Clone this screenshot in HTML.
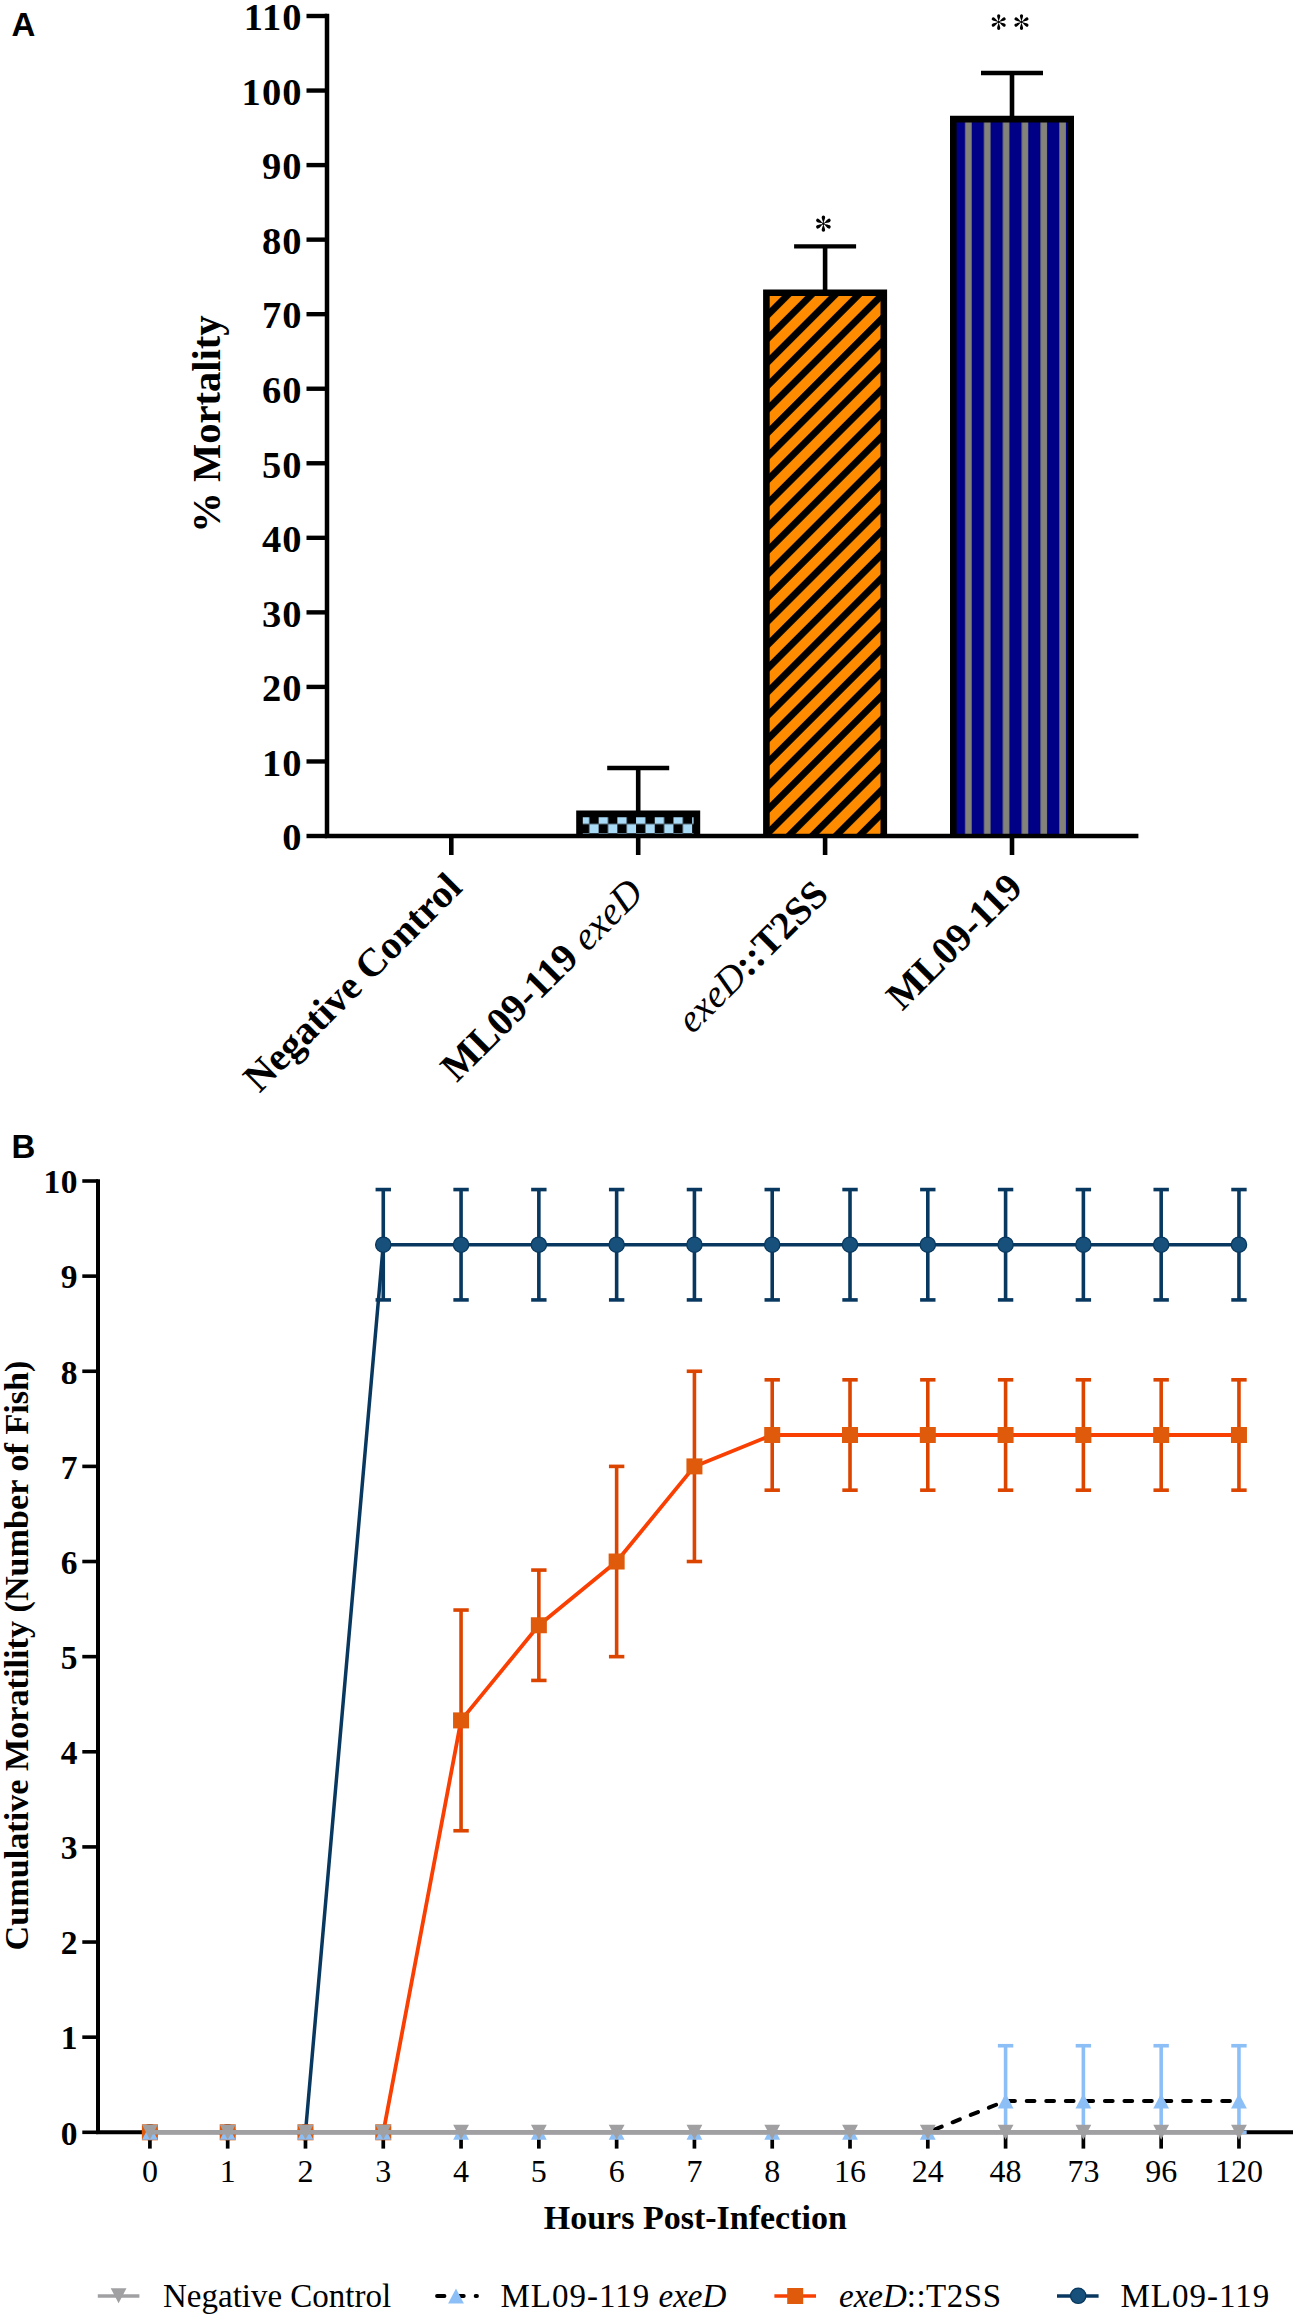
<!DOCTYPE html>
<html><head><meta charset="utf-8"><title>Figure</title>
<style>
html,body{margin:0;padding:0;background:#fff;}
body{width:1299px;height:2319px;overflow:hidden;font-family:"Liberation Serif",serif;}
svg{display:block;position:absolute;left:0;top:0;}
</style></head><body>
<svg width="1299" height="2319" viewBox="0 0 1299 2319">
<rect width="1299" height="2319" fill="#fff"/>
<defs>
<pattern id="chk" patternUnits="userSpaceOnUse" x="579.95" y="814.65" width="18.7" height="18.7"><rect width="18.7" height="18.7" fill="#000"/><rect x="0" y="0" width="9.35" height="9.35" fill="#A9DAF6"/><rect x="9.35" y="9.35" width="9.35" height="9.35" fill="#A9DAF6"/></pattern>
<pattern id="dia" patternUnits="userSpaceOnUse" x="12.48" y="0" width="16.66" height="20" patternTransform="rotate(45)"><rect width="16.66" height="20" fill="#FF8C00"/><rect x="0" width="6.8" height="20" fill="#000"/></pattern>
<pattern id="vst" patternUnits="userSpaceOnUse" x="0" y="0" width="18.84" height="20"><rect width="18.84" height="20" fill="#000086"/><rect x="4.26" width="6.6" height="20" fill="#838379"/></pattern>
</defs>
<text x="11.5" y="35.8" font-family='"Liberation Sans", sans-serif' font-weight="bold" font-size="33">A</text>
<text x="11.5" y="1157.8" font-family='"Liberation Sans", sans-serif' font-weight="bold" font-size="33">B</text>
<rect x="579.5" y="813.9" width="117.4" height="22.1" fill="url(#chk)"/>
<path d="M579.5 836 V813.9 H696.9 V836" fill="none" stroke="#000" stroke-width="6.6" stroke-linejoin="miter"/>
<rect x="766.4" y="292.7" width="117.4" height="543.3" fill="url(#dia)"/>
<path d="M766.4 836 V292.7 H883.8 V836" fill="none" stroke="#000" stroke-width="6.6" stroke-linejoin="miter"/>
<rect x="953.3" y="119.1" width="117.4" height="716.9" fill="url(#vst)"/>
<path d="M953.3 836 V119.1 H1070.7 V836" fill="none" stroke="#000" stroke-width="6.6" stroke-linejoin="miter"/>
<line x1="638.2" y1="812.6" x2="638.2" y2="768" stroke="#000" stroke-width="4.6"/>
<line x1="607.2" y1="768" x2="669.2" y2="768" stroke="#000" stroke-width="4.4"/>
<line x1="825.1" y1="291.4" x2="825.1" y2="246.4" stroke="#000" stroke-width="4.6"/>
<line x1="794.1" y1="246.4" x2="856.1" y2="246.4" stroke="#000" stroke-width="4.4"/>
<line x1="1012" y1="117.8" x2="1012" y2="73" stroke="#000" stroke-width="4.6"/>
<line x1="981" y1="73" x2="1043" y2="73" stroke="#000" stroke-width="4.4"/>
<g transform="translate(823.4,223.65)" fill="#000"><path transform="rotate(0)" d="M0,-0.6 C-0.7,-2.6 -1.75,-5.2 -1.75,-6.4 A1.75,1.75 0 0 1 1.75,-6.4 C1.75,-5.2 0.7,-2.6 0,-0.6Z"/><path transform="rotate(60)" d="M0,-0.6 C-0.7,-2.6 -1.75,-5.2 -1.75,-6.4 A1.75,1.75 0 0 1 1.75,-6.4 C1.75,-5.2 0.7,-2.6 0,-0.6Z"/><path transform="rotate(120)" d="M0,-0.6 C-0.7,-2.6 -1.75,-5.2 -1.75,-6.4 A1.75,1.75 0 0 1 1.75,-6.4 C1.75,-5.2 0.7,-2.6 0,-0.6Z"/><path transform="rotate(180)" d="M0,-0.6 C-0.7,-2.6 -1.75,-5.2 -1.75,-6.4 A1.75,1.75 0 0 1 1.75,-6.4 C1.75,-5.2 0.7,-2.6 0,-0.6Z"/><path transform="rotate(240)" d="M0,-0.6 C-0.7,-2.6 -1.75,-5.2 -1.75,-6.4 A1.75,1.75 0 0 1 1.75,-6.4 C1.75,-5.2 0.7,-2.6 0,-0.6Z"/><path transform="rotate(300)" d="M0,-0.6 C-0.7,-2.6 -1.75,-5.2 -1.75,-6.4 A1.75,1.75 0 0 1 1.75,-6.4 C1.75,-5.2 0.7,-2.6 0,-0.6Z"/><circle r="1.3"/></g>
<g transform="translate(998.7,22.05)" fill="#000"><path transform="rotate(0)" d="M0,-0.6 C-0.7,-2.6 -1.6,-5.05 -1.6,-6.25 A1.6,1.6 0 0 1 1.6,-6.25 C1.6,-5.05 0.7,-2.6 0,-0.6Z"/><path transform="rotate(60)" d="M0,-0.6 C-0.7,-2.6 -1.6,-5.05 -1.6,-6.25 A1.6,1.6 0 0 1 1.6,-6.25 C1.6,-5.05 0.7,-2.6 0,-0.6Z"/><path transform="rotate(120)" d="M0,-0.6 C-0.7,-2.6 -1.6,-5.05 -1.6,-6.25 A1.6,1.6 0 0 1 1.6,-6.25 C1.6,-5.05 0.7,-2.6 0,-0.6Z"/><path transform="rotate(180)" d="M0,-0.6 C-0.7,-2.6 -1.6,-5.05 -1.6,-6.25 A1.6,1.6 0 0 1 1.6,-6.25 C1.6,-5.05 0.7,-2.6 0,-0.6Z"/><path transform="rotate(240)" d="M0,-0.6 C-0.7,-2.6 -1.6,-5.05 -1.6,-6.25 A1.6,1.6 0 0 1 1.6,-6.25 C1.6,-5.05 0.7,-2.6 0,-0.6Z"/><path transform="rotate(300)" d="M0,-0.6 C-0.7,-2.6 -1.6,-5.05 -1.6,-6.25 A1.6,1.6 0 0 1 1.6,-6.25 C1.6,-5.05 0.7,-2.6 0,-0.6Z"/><circle r="1.3"/></g>
<g transform="translate(1021.5,22.05)" fill="#000"><path transform="rotate(0)" d="M0,-0.6 C-0.7,-2.6 -1.6,-5.05 -1.6,-6.25 A1.6,1.6 0 0 1 1.6,-6.25 C1.6,-5.05 0.7,-2.6 0,-0.6Z"/><path transform="rotate(60)" d="M0,-0.6 C-0.7,-2.6 -1.6,-5.05 -1.6,-6.25 A1.6,1.6 0 0 1 1.6,-6.25 C1.6,-5.05 0.7,-2.6 0,-0.6Z"/><path transform="rotate(120)" d="M0,-0.6 C-0.7,-2.6 -1.6,-5.05 -1.6,-6.25 A1.6,1.6 0 0 1 1.6,-6.25 C1.6,-5.05 0.7,-2.6 0,-0.6Z"/><path transform="rotate(180)" d="M0,-0.6 C-0.7,-2.6 -1.6,-5.05 -1.6,-6.25 A1.6,1.6 0 0 1 1.6,-6.25 C1.6,-5.05 0.7,-2.6 0,-0.6Z"/><path transform="rotate(240)" d="M0,-0.6 C-0.7,-2.6 -1.6,-5.05 -1.6,-6.25 A1.6,1.6 0 0 1 1.6,-6.25 C1.6,-5.05 0.7,-2.6 0,-0.6Z"/><path transform="rotate(300)" d="M0,-0.6 C-0.7,-2.6 -1.6,-5.05 -1.6,-6.25 A1.6,1.6 0 0 1 1.6,-6.25 C1.6,-5.05 0.7,-2.6 0,-0.6Z"/><circle r="1.3"/></g>
<path d="M327 13.8 V836 H1138.4" fill="none" stroke="#000" stroke-width="4.5" stroke-linejoin="miter"/>
<line x1="306.5" y1="836" x2="327" y2="836" stroke="#000" stroke-width="4.4"/>
<text x="302.6" y="850.3" text-anchor="end" font-family='"Liberation Serif", serif' font-weight="bold" font-size="38.5" letter-spacing="1.1">0</text>
<line x1="306.5" y1="761.46" x2="327" y2="761.46" stroke="#000" stroke-width="4.4"/>
<text x="302.6" y="775.75" text-anchor="end" font-family='"Liberation Serif", serif' font-weight="bold" font-size="38.5" letter-spacing="1.1">10</text>
<line x1="306.5" y1="686.91" x2="327" y2="686.91" stroke="#000" stroke-width="4.4"/>
<text x="302.6" y="701.21" text-anchor="end" font-family='"Liberation Serif", serif' font-weight="bold" font-size="38.5" letter-spacing="1.1">20</text>
<line x1="306.5" y1="612.37" x2="327" y2="612.37" stroke="#000" stroke-width="4.4"/>
<text x="302.6" y="626.66" text-anchor="end" font-family='"Liberation Serif", serif' font-weight="bold" font-size="38.5" letter-spacing="1.1">30</text>
<line x1="306.5" y1="537.82" x2="327" y2="537.82" stroke="#000" stroke-width="4.4"/>
<text x="302.6" y="552.12" text-anchor="end" font-family='"Liberation Serif", serif' font-weight="bold" font-size="38.5" letter-spacing="1.1">40</text>
<line x1="306.5" y1="463.27" x2="327" y2="463.27" stroke="#000" stroke-width="4.4"/>
<text x="302.6" y="477.57" text-anchor="end" font-family='"Liberation Serif", serif' font-weight="bold" font-size="38.5" letter-spacing="1.1">50</text>
<line x1="306.5" y1="388.73" x2="327" y2="388.73" stroke="#000" stroke-width="4.4"/>
<text x="302.6" y="403.03" text-anchor="end" font-family='"Liberation Serif", serif' font-weight="bold" font-size="38.5" letter-spacing="1.1">60</text>
<line x1="306.5" y1="314.18" x2="327" y2="314.18" stroke="#000" stroke-width="4.4"/>
<text x="302.6" y="328.48" text-anchor="end" font-family='"Liberation Serif", serif' font-weight="bold" font-size="38.5" letter-spacing="1.1">70</text>
<line x1="306.5" y1="239.64" x2="327" y2="239.64" stroke="#000" stroke-width="4.4"/>
<text x="302.6" y="253.94" text-anchor="end" font-family='"Liberation Serif", serif' font-weight="bold" font-size="38.5" letter-spacing="1.1">80</text>
<line x1="306.5" y1="165.09" x2="327" y2="165.09" stroke="#000" stroke-width="4.4"/>
<text x="302.6" y="179.39" text-anchor="end" font-family='"Liberation Serif", serif' font-weight="bold" font-size="38.5" letter-spacing="1.1">90</text>
<line x1="306.5" y1="90.55" x2="327" y2="90.55" stroke="#000" stroke-width="4.4"/>
<text x="302.6" y="104.85" text-anchor="end" font-family='"Liberation Serif", serif' font-weight="bold" font-size="38.5" letter-spacing="1.1">100</text>
<line x1="306.5" y1="16" x2="327" y2="16" stroke="#000" stroke-width="4.4"/>
<text x="302.6" y="30.3" text-anchor="end" font-family='"Liberation Serif", serif' font-weight="bold" font-size="38.5" letter-spacing="1.1">110</text>
<line x1="451.3" y1="836" x2="451.3" y2="855" stroke="#000" stroke-width="4.6"/>
<line x1="638.2" y1="836" x2="638.2" y2="855" stroke="#000" stroke-width="4.6"/>
<line x1="825.1" y1="836" x2="825.1" y2="855" stroke="#000" stroke-width="4.6"/>
<line x1="1012" y1="836" x2="1012" y2="855" stroke="#000" stroke-width="4.6"/>
<text transform="translate(220,424.1) rotate(-90)" text-anchor="middle" font-family='"Liberation Serif", serif' font-weight="bold" font-size="40.6">% Mortality</text>
<text transform="translate(463.89,889.41) rotate(-45)" text-anchor="end" font-family='"Liberation Serif", serif' font-weight="bold" font-size="39.7"><tspan>Negative Control</tspan></text>
<text transform="translate(645.2,895) rotate(-45)" text-anchor="end" font-family='"Liberation Serif", serif' font-weight="bold" font-size="39.8"><tspan>ML09-119 </tspan><tspan font-style="italic" font-weight="normal">exeD</tspan></text>
<text transform="translate(830.33,896.77) rotate(-45)" text-anchor="end" font-family='"Liberation Serif", serif' font-weight="bold" font-size="39"><tspan font-style="italic" font-weight="normal">exeD</tspan><tspan>::T2SS</tspan></text>
<text transform="translate(1024.3,889.7) rotate(-45)" text-anchor="end" font-family='"Liberation Serif", serif' font-weight="bold" font-size="39.3"><tspan>ML09-119</tspan></text>
<path d="M98 1179.2 V2132.3 H1293" fill="none" stroke="#000" stroke-width="4" />
<line x1="82.3" y1="2132.3" x2="98" y2="2132.3" stroke="#000" stroke-width="3.6"/>
<text x="78.1" y="2144.6" text-anchor="end" font-family='"Liberation Serif", serif' font-weight="bold" font-size="33.5" letter-spacing="0.5">0</text>
<line x1="82.3" y1="2037.17" x2="98" y2="2037.17" stroke="#000" stroke-width="3.6"/>
<text x="78.1" y="2049.47" text-anchor="end" font-family='"Liberation Serif", serif' font-weight="bold" font-size="33.5" letter-spacing="0.5">1</text>
<line x1="82.3" y1="1942.04" x2="98" y2="1942.04" stroke="#000" stroke-width="3.6"/>
<text x="78.1" y="1954.34" text-anchor="end" font-family='"Liberation Serif", serif' font-weight="bold" font-size="33.5" letter-spacing="0.5">2</text>
<line x1="82.3" y1="1846.91" x2="98" y2="1846.91" stroke="#000" stroke-width="3.6"/>
<text x="78.1" y="1859.21" text-anchor="end" font-family='"Liberation Serif", serif' font-weight="bold" font-size="33.5" letter-spacing="0.5">3</text>
<line x1="82.3" y1="1751.78" x2="98" y2="1751.78" stroke="#000" stroke-width="3.6"/>
<text x="78.1" y="1764.08" text-anchor="end" font-family='"Liberation Serif", serif' font-weight="bold" font-size="33.5" letter-spacing="0.5">4</text>
<line x1="82.3" y1="1656.65" x2="98" y2="1656.65" stroke="#000" stroke-width="3.6"/>
<text x="78.1" y="1668.95" text-anchor="end" font-family='"Liberation Serif", serif' font-weight="bold" font-size="33.5" letter-spacing="0.5">5</text>
<line x1="82.3" y1="1561.52" x2="98" y2="1561.52" stroke="#000" stroke-width="3.6"/>
<text x="78.1" y="1573.82" text-anchor="end" font-family='"Liberation Serif", serif' font-weight="bold" font-size="33.5" letter-spacing="0.5">6</text>
<line x1="82.3" y1="1466.39" x2="98" y2="1466.39" stroke="#000" stroke-width="3.6"/>
<text x="78.1" y="1478.69" text-anchor="end" font-family='"Liberation Serif", serif' font-weight="bold" font-size="33.5" letter-spacing="0.5">7</text>
<line x1="82.3" y1="1371.26" x2="98" y2="1371.26" stroke="#000" stroke-width="3.6"/>
<text x="78.1" y="1383.56" text-anchor="end" font-family='"Liberation Serif", serif' font-weight="bold" font-size="33.5" letter-spacing="0.5">8</text>
<line x1="82.3" y1="1276.13" x2="98" y2="1276.13" stroke="#000" stroke-width="3.6"/>
<text x="78.1" y="1288.43" text-anchor="end" font-family='"Liberation Serif", serif' font-weight="bold" font-size="33.5" letter-spacing="0.5">9</text>
<line x1="82.3" y1="1181" x2="98" y2="1181" stroke="#000" stroke-width="3.6"/>
<text x="78.1" y="1193.3" text-anchor="end" font-family='"Liberation Serif", serif' font-weight="bold" font-size="33.5" letter-spacing="0.5">10</text>
<line x1="149.9" y1="2132.3" x2="149.9" y2="2148.6" stroke="#000" stroke-width="3.7"/>
<text x="149.9" y="2182" text-anchor="middle" font-family='"Liberation Serif", serif' font-size="32">0</text>
<line x1="227.69" y1="2132.3" x2="227.69" y2="2148.6" stroke="#000" stroke-width="3.7"/>
<text x="227.69" y="2182" text-anchor="middle" font-family='"Liberation Serif", serif' font-size="32">1</text>
<line x1="305.48" y1="2132.3" x2="305.48" y2="2148.6" stroke="#000" stroke-width="3.7"/>
<text x="305.48" y="2182" text-anchor="middle" font-family='"Liberation Serif", serif' font-size="32">2</text>
<line x1="383.27" y1="2132.3" x2="383.27" y2="2148.6" stroke="#000" stroke-width="3.7"/>
<text x="383.27" y="2182" text-anchor="middle" font-family='"Liberation Serif", serif' font-size="32">3</text>
<line x1="461.06" y1="2132.3" x2="461.06" y2="2148.6" stroke="#000" stroke-width="3.7"/>
<text x="461.06" y="2182" text-anchor="middle" font-family='"Liberation Serif", serif' font-size="32">4</text>
<line x1="538.85" y1="2132.3" x2="538.85" y2="2148.6" stroke="#000" stroke-width="3.7"/>
<text x="538.85" y="2182" text-anchor="middle" font-family='"Liberation Serif", serif' font-size="32">5</text>
<line x1="616.64" y1="2132.3" x2="616.64" y2="2148.6" stroke="#000" stroke-width="3.7"/>
<text x="616.64" y="2182" text-anchor="middle" font-family='"Liberation Serif", serif' font-size="32">6</text>
<line x1="694.43" y1="2132.3" x2="694.43" y2="2148.6" stroke="#000" stroke-width="3.7"/>
<text x="694.43" y="2182" text-anchor="middle" font-family='"Liberation Serif", serif' font-size="32">7</text>
<line x1="772.22" y1="2132.3" x2="772.22" y2="2148.6" stroke="#000" stroke-width="3.7"/>
<text x="772.22" y="2182" text-anchor="middle" font-family='"Liberation Serif", serif' font-size="32">8</text>
<line x1="850.01" y1="2132.3" x2="850.01" y2="2148.6" stroke="#000" stroke-width="3.7"/>
<text x="850.01" y="2182" text-anchor="middle" font-family='"Liberation Serif", serif' font-size="32">16</text>
<line x1="927.8" y1="2132.3" x2="927.8" y2="2148.6" stroke="#000" stroke-width="3.7"/>
<text x="927.8" y="2182" text-anchor="middle" font-family='"Liberation Serif", serif' font-size="32">24</text>
<line x1="1005.59" y1="2132.3" x2="1005.59" y2="2148.6" stroke="#000" stroke-width="3.7"/>
<text x="1005.59" y="2182" text-anchor="middle" font-family='"Liberation Serif", serif' font-size="32">48</text>
<line x1="1083.38" y1="2132.3" x2="1083.38" y2="2148.6" stroke="#000" stroke-width="3.7"/>
<text x="1083.38" y="2182" text-anchor="middle" font-family='"Liberation Serif", serif' font-size="32">73</text>
<line x1="1161.17" y1="2132.3" x2="1161.17" y2="2148.6" stroke="#000" stroke-width="3.7"/>
<text x="1161.17" y="2182" text-anchor="middle" font-family='"Liberation Serif", serif' font-size="32">96</text>
<line x1="1238.96" y1="2132.3" x2="1238.96" y2="2148.6" stroke="#000" stroke-width="3.7"/>
<text x="1238.96" y="2182" text-anchor="middle" font-family='"Liberation Serif", serif' font-size="32">120</text>
<text x="695.3" y="2229" text-anchor="middle" font-family='"Liberation Serif", serif' font-weight="bold" font-size="34">Hours Post-Infection</text>
<text transform="translate(28,1655.5) rotate(-90)" text-anchor="middle" font-family='"Liberation Serif", serif' font-weight="bold" font-size="34.2">Cumulative Moratility (Number of Fish)</text>
<line x1="383.27" y1="1189.56" x2="383.27" y2="1299.91" stroke="#08385F" stroke-width="3.6"/>
<line x1="375.57" y1="1189.56" x2="390.97" y2="1189.56" stroke="#08385F" stroke-width="3.6"/>
<line x1="375.57" y1="1299.91" x2="390.97" y2="1299.91" stroke="#08385F" stroke-width="3.6"/>
<line x1="461.06" y1="1189.56" x2="461.06" y2="1299.91" stroke="#08385F" stroke-width="3.6"/>
<line x1="453.36" y1="1189.56" x2="468.76" y2="1189.56" stroke="#08385F" stroke-width="3.6"/>
<line x1="453.36" y1="1299.91" x2="468.76" y2="1299.91" stroke="#08385F" stroke-width="3.6"/>
<line x1="538.85" y1="1189.56" x2="538.85" y2="1299.91" stroke="#08385F" stroke-width="3.6"/>
<line x1="531.15" y1="1189.56" x2="546.55" y2="1189.56" stroke="#08385F" stroke-width="3.6"/>
<line x1="531.15" y1="1299.91" x2="546.55" y2="1299.91" stroke="#08385F" stroke-width="3.6"/>
<line x1="616.64" y1="1189.56" x2="616.64" y2="1299.91" stroke="#08385F" stroke-width="3.6"/>
<line x1="608.94" y1="1189.56" x2="624.34" y2="1189.56" stroke="#08385F" stroke-width="3.6"/>
<line x1="608.94" y1="1299.91" x2="624.34" y2="1299.91" stroke="#08385F" stroke-width="3.6"/>
<line x1="694.43" y1="1189.56" x2="694.43" y2="1299.91" stroke="#08385F" stroke-width="3.6"/>
<line x1="686.73" y1="1189.56" x2="702.13" y2="1189.56" stroke="#08385F" stroke-width="3.6"/>
<line x1="686.73" y1="1299.91" x2="702.13" y2="1299.91" stroke="#08385F" stroke-width="3.6"/>
<line x1="772.22" y1="1189.56" x2="772.22" y2="1299.91" stroke="#08385F" stroke-width="3.6"/>
<line x1="764.52" y1="1189.56" x2="779.92" y2="1189.56" stroke="#08385F" stroke-width="3.6"/>
<line x1="764.52" y1="1299.91" x2="779.92" y2="1299.91" stroke="#08385F" stroke-width="3.6"/>
<line x1="850.01" y1="1189.56" x2="850.01" y2="1299.91" stroke="#08385F" stroke-width="3.6"/>
<line x1="842.31" y1="1189.56" x2="857.71" y2="1189.56" stroke="#08385F" stroke-width="3.6"/>
<line x1="842.31" y1="1299.91" x2="857.71" y2="1299.91" stroke="#08385F" stroke-width="3.6"/>
<line x1="927.8" y1="1189.56" x2="927.8" y2="1299.91" stroke="#08385F" stroke-width="3.6"/>
<line x1="920.1" y1="1189.56" x2="935.5" y2="1189.56" stroke="#08385F" stroke-width="3.6"/>
<line x1="920.1" y1="1299.91" x2="935.5" y2="1299.91" stroke="#08385F" stroke-width="3.6"/>
<line x1="1005.59" y1="1189.56" x2="1005.59" y2="1299.91" stroke="#08385F" stroke-width="3.6"/>
<line x1="997.89" y1="1189.56" x2="1013.29" y2="1189.56" stroke="#08385F" stroke-width="3.6"/>
<line x1="997.89" y1="1299.91" x2="1013.29" y2="1299.91" stroke="#08385F" stroke-width="3.6"/>
<line x1="1083.38" y1="1189.56" x2="1083.38" y2="1299.91" stroke="#08385F" stroke-width="3.6"/>
<line x1="1075.68" y1="1189.56" x2="1091.08" y2="1189.56" stroke="#08385F" stroke-width="3.6"/>
<line x1="1075.68" y1="1299.91" x2="1091.08" y2="1299.91" stroke="#08385F" stroke-width="3.6"/>
<line x1="1161.17" y1="1189.56" x2="1161.17" y2="1299.91" stroke="#08385F" stroke-width="3.6"/>
<line x1="1153.47" y1="1189.56" x2="1168.87" y2="1189.56" stroke="#08385F" stroke-width="3.6"/>
<line x1="1153.47" y1="1299.91" x2="1168.87" y2="1299.91" stroke="#08385F" stroke-width="3.6"/>
<line x1="1238.96" y1="1189.56" x2="1238.96" y2="1299.91" stroke="#08385F" stroke-width="3.6"/>
<line x1="1231.26" y1="1189.56" x2="1246.66" y2="1189.56" stroke="#08385F" stroke-width="3.6"/>
<line x1="1231.26" y1="1299.91" x2="1246.66" y2="1299.91" stroke="#08385F" stroke-width="3.6"/>
<polyline points="305.48,2132.3 383.27,1244.74 461.06,1244.74 538.85,1244.74 616.64,1244.74 694.43,1244.74 772.22,1244.74 850.01,1244.74 927.8,1244.74 1005.59,1244.74 1083.38,1244.74 1161.17,1244.74 1238.96,1244.74" fill="none" stroke="#08385F" stroke-width="3.5" stroke-linejoin="round"/>
<circle cx="149.9" cy="2132.3" r="7.7" fill="#17507A" stroke="#08385F" stroke-width="1.2"/>
<circle cx="227.69" cy="2132.3" r="7.7" fill="#17507A" stroke="#08385F" stroke-width="1.2"/>
<circle cx="305.48" cy="2132.3" r="7.7" fill="#17507A" stroke="#08385F" stroke-width="1.2"/>
<circle cx="383.27" cy="1244.74" r="7.7" fill="#17507A" stroke="#08385F" stroke-width="1.2"/>
<circle cx="461.06" cy="1244.74" r="7.7" fill="#17507A" stroke="#08385F" stroke-width="1.2"/>
<circle cx="538.85" cy="1244.74" r="7.7" fill="#17507A" stroke="#08385F" stroke-width="1.2"/>
<circle cx="616.64" cy="1244.74" r="7.7" fill="#17507A" stroke="#08385F" stroke-width="1.2"/>
<circle cx="694.43" cy="1244.74" r="7.7" fill="#17507A" stroke="#08385F" stroke-width="1.2"/>
<circle cx="772.22" cy="1244.74" r="7.7" fill="#17507A" stroke="#08385F" stroke-width="1.2"/>
<circle cx="850.01" cy="1244.74" r="7.7" fill="#17507A" stroke="#08385F" stroke-width="1.2"/>
<circle cx="927.8" cy="1244.74" r="7.7" fill="#17507A" stroke="#08385F" stroke-width="1.2"/>
<circle cx="1005.59" cy="1244.74" r="7.7" fill="#17507A" stroke="#08385F" stroke-width="1.2"/>
<circle cx="1083.38" cy="1244.74" r="7.7" fill="#17507A" stroke="#08385F" stroke-width="1.2"/>
<circle cx="1161.17" cy="1244.74" r="7.7" fill="#17507A" stroke="#08385F" stroke-width="1.2"/>
<circle cx="1238.96" cy="1244.74" r="7.7" fill="#17507A" stroke="#08385F" stroke-width="1.2"/>
<line x1="461.06" y1="1610.04" x2="461.06" y2="1830.74" stroke="#DC4500" stroke-width="3.6"/>
<line x1="453.36" y1="1610.04" x2="468.76" y2="1610.04" stroke="#DC4500" stroke-width="3.6"/>
<line x1="453.36" y1="1830.74" x2="468.76" y2="1830.74" stroke="#DC4500" stroke-width="3.6"/>
<line x1="538.85" y1="1570.08" x2="538.85" y2="1680.43" stroke="#DC4500" stroke-width="3.6"/>
<line x1="531.15" y1="1570.08" x2="546.55" y2="1570.08" stroke="#DC4500" stroke-width="3.6"/>
<line x1="531.15" y1="1680.43" x2="546.55" y2="1680.43" stroke="#DC4500" stroke-width="3.6"/>
<line x1="616.64" y1="1466.39" x2="616.64" y2="1656.65" stroke="#DC4500" stroke-width="3.6"/>
<line x1="608.94" y1="1466.39" x2="624.34" y2="1466.39" stroke="#DC4500" stroke-width="3.6"/>
<line x1="608.94" y1="1656.65" x2="624.34" y2="1656.65" stroke="#DC4500" stroke-width="3.6"/>
<line x1="694.43" y1="1371.26" x2="694.43" y2="1561.52" stroke="#DC4500" stroke-width="3.6"/>
<line x1="686.73" y1="1371.26" x2="702.13" y2="1371.26" stroke="#DC4500" stroke-width="3.6"/>
<line x1="686.73" y1="1561.52" x2="702.13" y2="1561.52" stroke="#DC4500" stroke-width="3.6"/>
<line x1="772.22" y1="1379.82" x2="772.22" y2="1490.17" stroke="#DC4500" stroke-width="3.6"/>
<line x1="764.52" y1="1379.82" x2="779.92" y2="1379.82" stroke="#DC4500" stroke-width="3.6"/>
<line x1="764.52" y1="1490.17" x2="779.92" y2="1490.17" stroke="#DC4500" stroke-width="3.6"/>
<line x1="850.01" y1="1379.82" x2="850.01" y2="1490.17" stroke="#DC4500" stroke-width="3.6"/>
<line x1="842.31" y1="1379.82" x2="857.71" y2="1379.82" stroke="#DC4500" stroke-width="3.6"/>
<line x1="842.31" y1="1490.17" x2="857.71" y2="1490.17" stroke="#DC4500" stroke-width="3.6"/>
<line x1="927.8" y1="1379.82" x2="927.8" y2="1490.17" stroke="#DC4500" stroke-width="3.6"/>
<line x1="920.1" y1="1379.82" x2="935.5" y2="1379.82" stroke="#DC4500" stroke-width="3.6"/>
<line x1="920.1" y1="1490.17" x2="935.5" y2="1490.17" stroke="#DC4500" stroke-width="3.6"/>
<line x1="1005.59" y1="1379.82" x2="1005.59" y2="1490.17" stroke="#DC4500" stroke-width="3.6"/>
<line x1="997.89" y1="1379.82" x2="1013.29" y2="1379.82" stroke="#DC4500" stroke-width="3.6"/>
<line x1="997.89" y1="1490.17" x2="1013.29" y2="1490.17" stroke="#DC4500" stroke-width="3.6"/>
<line x1="1083.38" y1="1379.82" x2="1083.38" y2="1490.17" stroke="#DC4500" stroke-width="3.6"/>
<line x1="1075.68" y1="1379.82" x2="1091.08" y2="1379.82" stroke="#DC4500" stroke-width="3.6"/>
<line x1="1075.68" y1="1490.17" x2="1091.08" y2="1490.17" stroke="#DC4500" stroke-width="3.6"/>
<line x1="1161.17" y1="1379.82" x2="1161.17" y2="1490.17" stroke="#DC4500" stroke-width="3.6"/>
<line x1="1153.47" y1="1379.82" x2="1168.87" y2="1379.82" stroke="#DC4500" stroke-width="3.6"/>
<line x1="1153.47" y1="1490.17" x2="1168.87" y2="1490.17" stroke="#DC4500" stroke-width="3.6"/>
<line x1="1238.96" y1="1379.82" x2="1238.96" y2="1490.17" stroke="#DC4500" stroke-width="3.6"/>
<line x1="1231.26" y1="1379.82" x2="1246.66" y2="1379.82" stroke="#DC4500" stroke-width="3.6"/>
<line x1="1231.26" y1="1490.17" x2="1246.66" y2="1490.17" stroke="#DC4500" stroke-width="3.6"/>
<polyline points="383.27,2132.3 461.06,1720.39 538.85,1625.26 616.64,1561.52 694.43,1466.39 772.22,1435 850.01,1435 927.8,1435 1005.59,1435 1083.38,1435 1161.17,1435 1238.96,1435" fill="none" stroke="#FA3F02" stroke-width="3.8" stroke-linejoin="round"/>
<rect x="141.9" y="2124.3" width="16" height="16" fill="#DF5A0A"/>
<rect x="219.69" y="2124.3" width="16" height="16" fill="#DF5A0A"/>
<rect x="297.48" y="2124.3" width="16" height="16" fill="#DF5A0A"/>
<rect x="375.27" y="2124.3" width="16" height="16" fill="#DF5A0A"/>
<rect x="453.06" y="1712.39" width="16" height="16" fill="#DF5A0A"/>
<rect x="530.85" y="1617.26" width="16" height="16" fill="#DF5A0A"/>
<rect x="608.64" y="1553.52" width="16" height="16" fill="#DF5A0A"/>
<rect x="686.43" y="1458.39" width="16" height="16" fill="#DF5A0A"/>
<rect x="764.22" y="1427" width="16" height="16" fill="#DF5A0A"/>
<rect x="842.01" y="1427" width="16" height="16" fill="#DF5A0A"/>
<rect x="919.8" y="1427" width="16" height="16" fill="#DF5A0A"/>
<rect x="997.59" y="1427" width="16" height="16" fill="#DF5A0A"/>
<rect x="1075.38" y="1427" width="16" height="16" fill="#DF5A0A"/>
<rect x="1153.17" y="1427" width="16" height="16" fill="#DF5A0A"/>
<rect x="1230.96" y="1427" width="16" height="16" fill="#DF5A0A"/>
<line x1="1005.59" y1="2045.73" x2="1005.59" y2="2132.3" stroke="#8DBFF7" stroke-width="3.6"/>
<line x1="997.89" y1="2045.73" x2="1013.29" y2="2045.73" stroke="#8DBFF7" stroke-width="3.6"/>
<line x1="997.89" y1="2132.3" x2="1013.29" y2="2132.3" stroke="#8DBFF7" stroke-width="3.6"/>
<line x1="1083.38" y1="2045.73" x2="1083.38" y2="2132.3" stroke="#8DBFF7" stroke-width="3.6"/>
<line x1="1075.68" y1="2045.73" x2="1091.08" y2="2045.73" stroke="#8DBFF7" stroke-width="3.6"/>
<line x1="1075.68" y1="2132.3" x2="1091.08" y2="2132.3" stroke="#8DBFF7" stroke-width="3.6"/>
<line x1="1161.17" y1="2045.73" x2="1161.17" y2="2132.3" stroke="#8DBFF7" stroke-width="3.6"/>
<line x1="1153.47" y1="2045.73" x2="1168.87" y2="2045.73" stroke="#8DBFF7" stroke-width="3.6"/>
<line x1="1153.47" y1="2132.3" x2="1168.87" y2="2132.3" stroke="#8DBFF7" stroke-width="3.6"/>
<line x1="1238.96" y1="2045.73" x2="1238.96" y2="2132.3" stroke="#8DBFF7" stroke-width="3.6"/>
<line x1="1231.26" y1="2045.73" x2="1246.66" y2="2045.73" stroke="#8DBFF7" stroke-width="3.6"/>
<line x1="1231.26" y1="2132.3" x2="1246.66" y2="2132.3" stroke="#8DBFF7" stroke-width="3.6"/>
<polyline points="927.8,2132.3 1005.59,2100.91 1083.38,2100.91 1161.17,2100.91 1238.96,2100.91" fill="none" stroke="#000" stroke-width="4" stroke-linejoin="round" stroke-dasharray="7.75 11.8" stroke-dashoffset="12.3" stroke-linecap="round"/>
<polygon points="149.9,2124.8 142,2139.8 157.8,2139.8" fill="#8DBFF7"/>
<polygon points="227.69,2124.8 219.79,2139.8 235.59,2139.8" fill="#8DBFF7"/>
<polygon points="305.48,2124.8 297.58,2139.8 313.38,2139.8" fill="#8DBFF7"/>
<polygon points="383.27,2124.8 375.37,2139.8 391.17,2139.8" fill="#8DBFF7"/>
<polygon points="461.06,2124.8 453.16,2139.8 468.96,2139.8" fill="#8DBFF7"/>
<polygon points="538.85,2124.8 530.95,2139.8 546.75,2139.8" fill="#8DBFF7"/>
<polygon points="616.64,2124.8 608.74,2139.8 624.54,2139.8" fill="#8DBFF7"/>
<polygon points="694.43,2124.8 686.53,2139.8 702.33,2139.8" fill="#8DBFF7"/>
<polygon points="772.22,2124.8 764.32,2139.8 780.12,2139.8" fill="#8DBFF7"/>
<polygon points="850.01,2124.8 842.11,2139.8 857.91,2139.8" fill="#8DBFF7"/>
<polygon points="927.8,2124.8 919.9,2139.8 935.7,2139.8" fill="#8DBFF7"/>
<polygon points="1005.59,2093.41 997.69,2108.41 1013.49,2108.41" fill="#8DBFF7"/>
<polygon points="1083.38,2093.41 1075.48,2108.41 1091.28,2108.41" fill="#8DBFF7"/>
<polygon points="1161.17,2093.41 1153.27,2108.41 1169.07,2108.41" fill="#8DBFF7"/>
<polygon points="1238.96,2093.41 1231.06,2108.41 1246.86,2108.41" fill="#8DBFF7"/>
<polyline points="149.9,2132.3 227.69,2132.3 305.48,2132.3 383.27,2132.3 461.06,2132.3 538.85,2132.3 616.64,2132.3 694.43,2132.3 772.22,2132.3 850.01,2132.3 927.8,2132.3 1005.59,2132.3 1083.38,2132.3 1161.17,2132.3 1238.96,2132.3" fill="none" stroke="#A0A0A3" stroke-width="4.4" stroke-linejoin="round"/>
<polygon points="142,2124.8 157.8,2124.8 149.9,2139.8" fill="#A0A0A3"/>
<polygon points="219.79,2124.8 235.59,2124.8 227.69,2139.8" fill="#A0A0A3"/>
<polygon points="297.58,2124.8 313.38,2124.8 305.48,2139.8" fill="#A0A0A3"/>
<polygon points="375.37,2124.8 391.17,2124.8 383.27,2139.8" fill="#A0A0A3"/>
<polygon points="453.16,2124.8 468.96,2124.8 461.06,2139.8" fill="#A0A0A3"/>
<polygon points="530.95,2124.8 546.75,2124.8 538.85,2139.8" fill="#A0A0A3"/>
<polygon points="608.74,2124.8 624.54,2124.8 616.64,2139.8" fill="#A0A0A3"/>
<polygon points="686.53,2124.8 702.33,2124.8 694.43,2139.8" fill="#A0A0A3"/>
<polygon points="764.32,2124.8 780.12,2124.8 772.22,2139.8" fill="#A0A0A3"/>
<polygon points="842.11,2124.8 857.91,2124.8 850.01,2139.8" fill="#A0A0A3"/>
<polygon points="919.9,2124.8 935.7,2124.8 927.8,2139.8" fill="#A0A0A3"/>
<polygon points="997.69,2124.8 1013.49,2124.8 1005.59,2139.8" fill="#A0A0A3"/>
<polygon points="1075.48,2124.8 1091.28,2124.8 1083.38,2139.8" fill="#A0A0A3"/>
<polygon points="1153.27,2124.8 1169.07,2124.8 1161.17,2139.8" fill="#A0A0A3"/>
<polygon points="1231.06,2124.8 1246.86,2124.8 1238.96,2139.8" fill="#A0A0A3"/>
<line x1="97.8" y1="2296" x2="139.4" y2="2296" stroke="#A0A0A3" stroke-width="3.7"/>
<polygon points="110.7,2288.3 126.5,2288.3 118.6,2303.3" fill="#A0A0A3"/>
<line x1="437" y1="2296" x2="477" y2="2296" stroke="#000" stroke-width="3.8" stroke-dasharray="7.5 11.8" stroke-linecap="round"/>
<polygon points="456,2288.6 448.1,2303.6 463.9,2303.6" fill="#8DBFF7"/>
<line x1="774.4" y1="2296" x2="816" y2="2296" stroke="#FA3F02" stroke-width="3.5"/>
<rect x="787.2" y="2288" width="16" height="16" fill="#DF5A0A"/>
<line x1="1057" y1="2296" x2="1098.6" y2="2296" stroke="#08385F" stroke-width="3.5"/>
<circle cx="1078.2" cy="2295.8" r="7.7" fill="#17507A" stroke="#08385F" stroke-width="1.2"/>
<text x="163" y="2307" font-family='"Liberation Serif", serif' font-size="33">Negative Control</text>
<text x="500.5" y="2307" font-family='"Liberation Serif", serif' font-size="33"><tspan letter-spacing="1">ML09-119</tspan> <tspan font-style="italic">exeD</tspan></text>
<text x="839" y="2307" font-family='"Liberation Serif", serif' font-size="33"><tspan font-style="italic">exeD</tspan><tspan letter-spacing="0.5">::T2SS</tspan></text>
<text x="1120.5" y="2307" font-family='"Liberation Serif", serif' font-size="33" letter-spacing="1">ML09-119</text>
</svg>
</body></html>
